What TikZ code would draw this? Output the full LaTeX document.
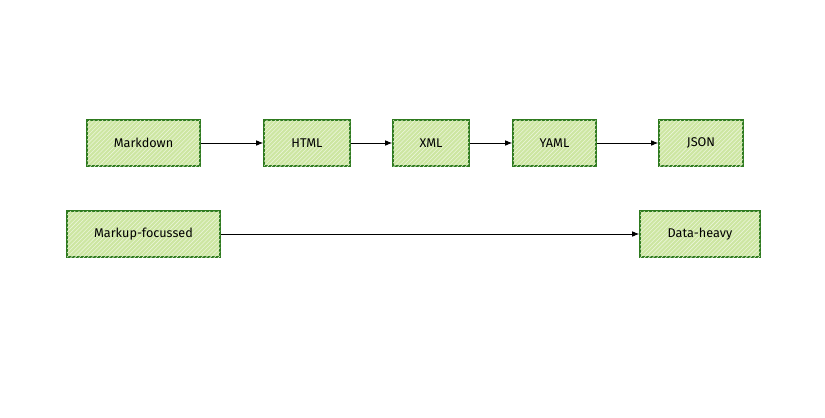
\documentclass[tikz,border=0pt]{standalone}
\usepackage{fontspec}
\setmainfont{Fira Sans}
\usetikzlibrary{patterns,arrows.meta}
\definecolor{boxfill}{HTML}{CDE6A2}
\definecolor{boxline}{HTML}{2E7A1E}
\tikzset{
    fmt/.style={draw=boxline, line width=1.1pt, fill=boxfill,
        postaction={pattern=north east lines, pattern color=white!60!boxfill},
        font=\small, inner sep=0pt},
    conv/.style={-{Latex[length=5pt,width=4pt]}, line width=0.6pt}
}
\begin{document}
\begin{tikzpicture}[x=0.025cm, y=-0.025cm]
    \useasboundingbox (0,0) rectangle (825,417);
    % top row of formats
    \node[fmt, minimum width=113*0.025cm, minimum height=46*0.025cm] (md) at (143.5,143) {Markdown};
    \node[fmt, minimum width=86*0.025cm, minimum height=46*0.025cm] (html) at (307,143) {HTML};
    \node[fmt, minimum width=76*0.025cm, minimum height=46*0.025cm] (xml) at (431,143) {XML};
    \node[fmt, minimum width=83*0.025cm, minimum height=46*0.025cm] (yaml) at (554.5,143) {YAML};
    \node[fmt, minimum width=84*0.025cm, minimum height=46*0.025cm] (json) at (701,143) {JSON};
    \draw[conv] (md) -- (html);
    \draw[conv] (html) -- (xml);
    \draw[conv] (xml) -- (yaml);
    \draw[conv] (yaml) -- (json);
    % bottom row
    \node[fmt, minimum width=153*0.025cm, minimum height=46*0.025cm] (markup) at (143.5,234) {Markup-focussed};
    \node[fmt, minimum width=120*0.025cm, minimum height=46*0.025cm] (data) at (700,234) {Data-heavy};
    \draw[conv] (markup) -- (data);
\end{tikzpicture}
\end{document}
